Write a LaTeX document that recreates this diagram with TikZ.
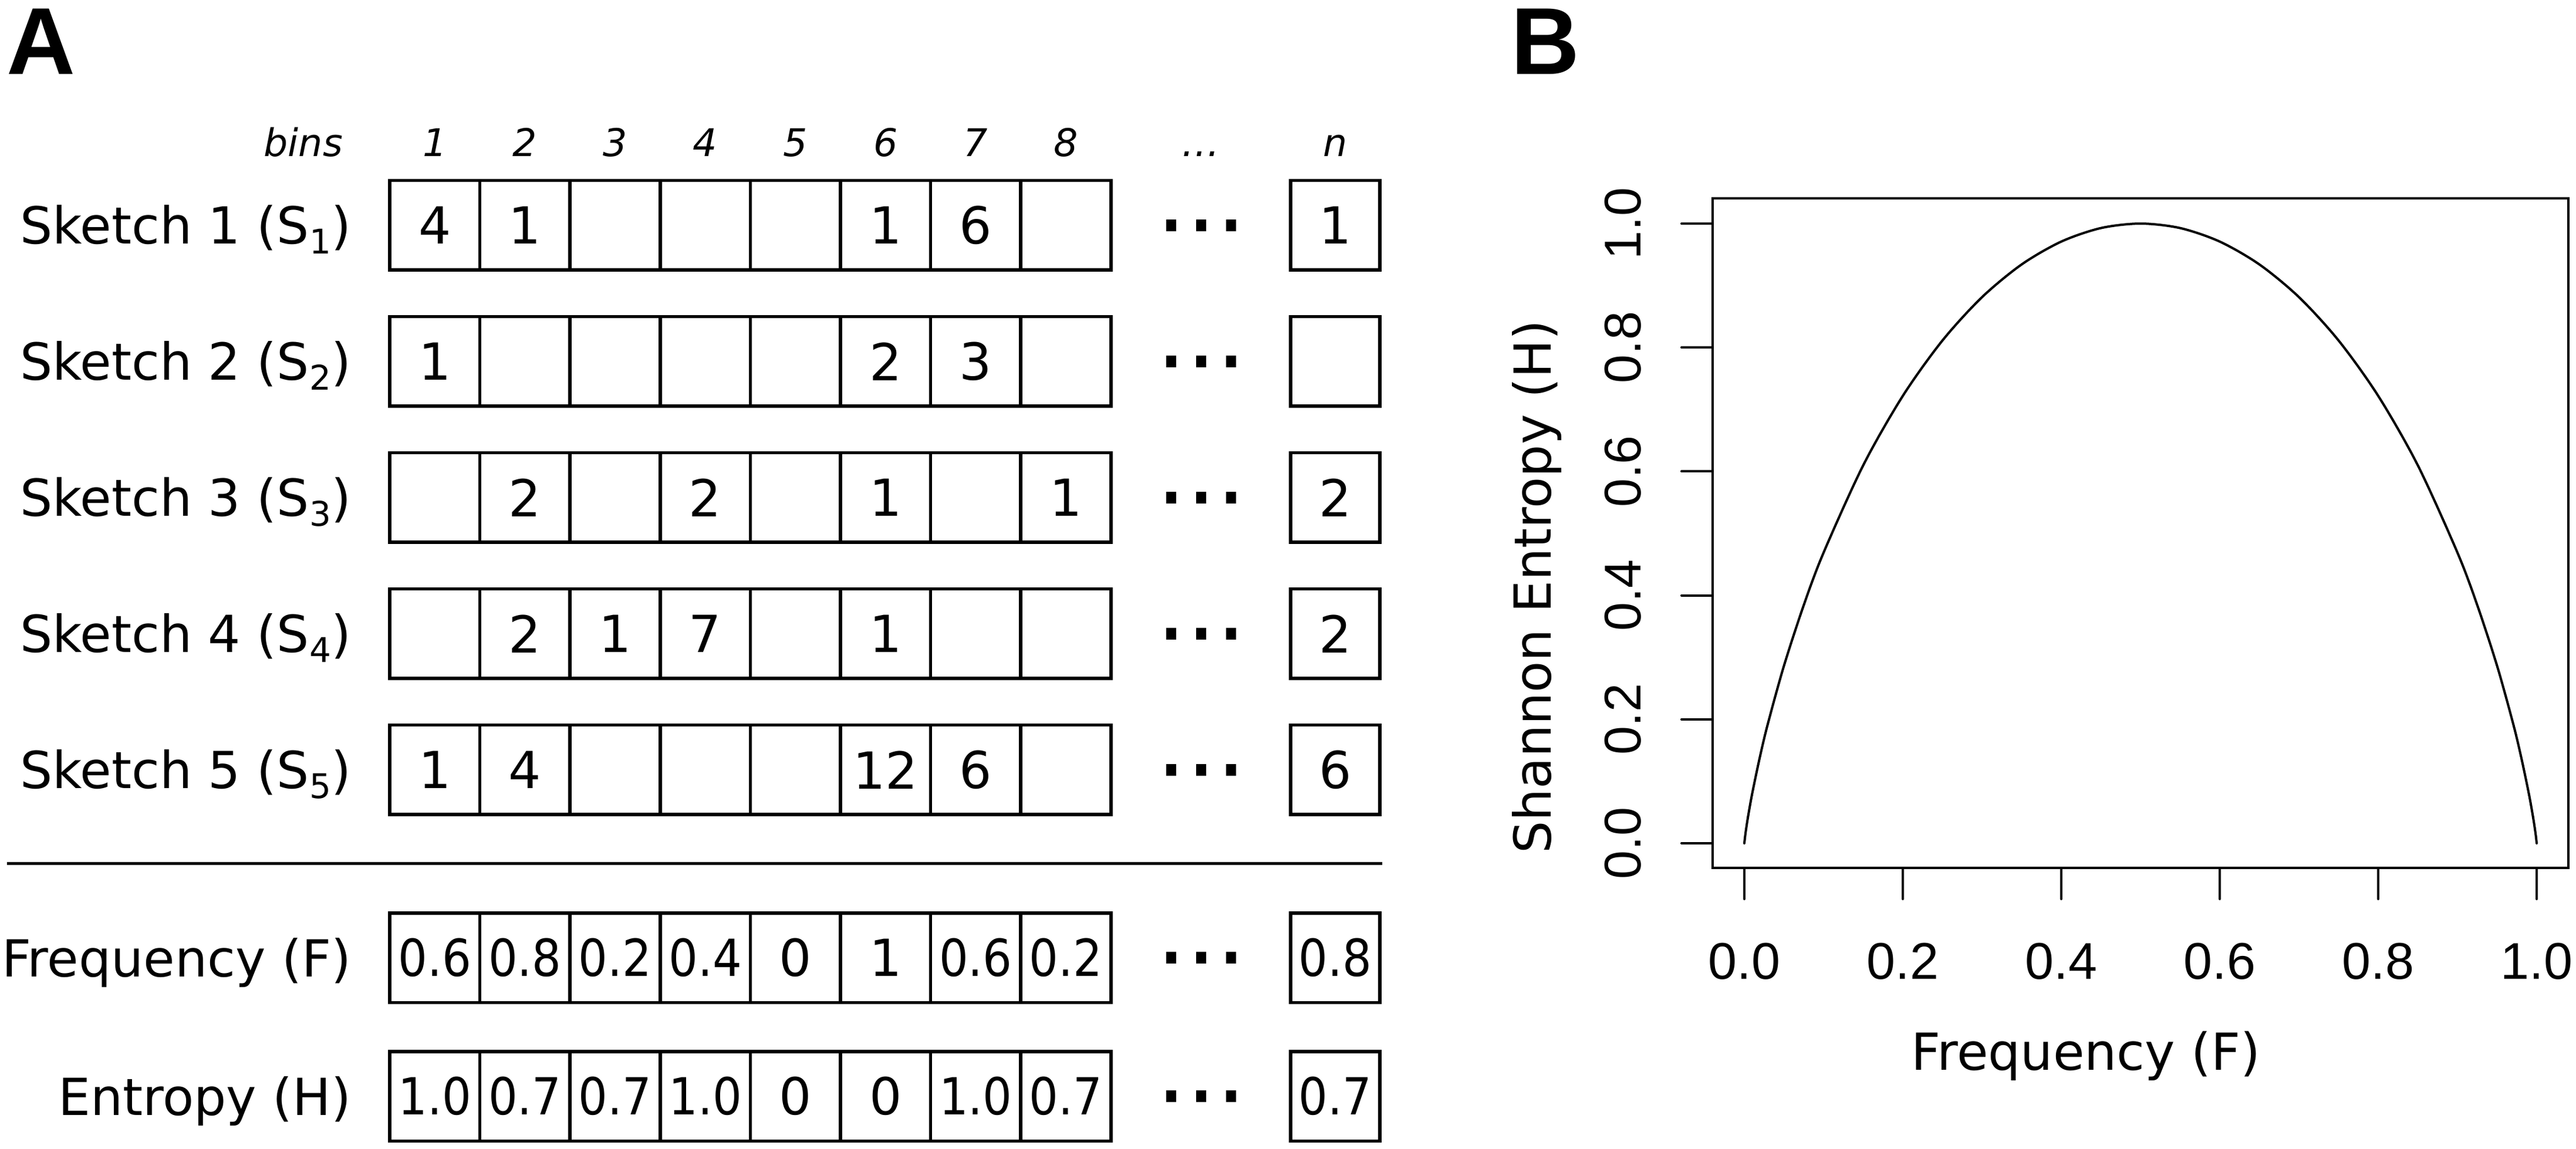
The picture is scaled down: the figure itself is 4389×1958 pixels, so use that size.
\documentclass[tikz,border=0pt]{standalone}
\usepackage{fontspec}
\setmainfont{DejaVu Sans}
\newfontfamily\libsans{Liberation Sans}
\newcommand\subsk[1]{\raisebox{-1.7pt}{\fontsize{5.8}{6}\selectfont #1}}
\newcommand\sq[1]{\scalebox{0.9}[1]{#1}}
\begin{document}
\begin{tikzpicture}[x=0.1pt,y=-0.1pt,
  cell/.style={draw, line width=0.55pt, minimum width=15.36pt, minimum height=15.25pt,
    inner sep=0pt, outer sep=0pt, font=\fontsize{8.7}{10}\selectfont},
  nbox/.style={cell, minimum width=15.2pt},
  rowlab/.style={anchor=base east, inner sep=0pt, font=\fontsize{8.7}{10}\selectfont},
  hdr/.style={anchor=base, inner sep=0pt, font=\fontsize{6.5}{8}\selectfont\itshape},
  dotbox/.style={fill, draw=none, minimum width=1.7pt, minimum height=2pt, inner sep=0pt},
  panel/.style={anchor=base west, inner sep=0pt, font=\libsans\bfseries\fontsize{16.2}{18}\selectfont},
  frame/.style={line width=0.4pt},
  tick/.style={line width=0.4pt, line cap=round},
  curve/.style={line width=0.4pt, line join=round, line cap=round},
  tlab/.style={anchor=base, inner sep=0pt, font=\libsans\fontsize{8.8}{10}\selectfont},
  axlab/.style={anchor=base, inner sep=0pt, font=\fontsize{8.7}{10}\selectfont}
]
\useasboundingbox (0,0) rectangle (4389,1958);

% panel letters
\node[panel] (labA) at (9,126) {A};
\node[panel] (labB) at (2572,127) {B};

% header
\node[hdr, anchor=base east] (bins) at (586,267) {bins};
\foreach \i in {1,...,8}
  \node[hdr] (h\i) at ({664+153.6*(\i-0.5)},267) {\i};
\node[hdr] (hdots) at (2046,267) {…};
\node[hdr] (hn) at (2275,267) {n};

% row labels (baseline = row centre + 32)
\node[rowlab] (l1) at (600,415.75) {Sketch 1 (S\subsk{1})};
\node[rowlab] (l2) at (600,647.75) {Sketch 2 (S\subsk{2})};
\node[rowlab] (l3) at (600,879.75) {Sketch 3 (S\subsk{3})};
\node[rowlab] (l4) at (600,1111.75) {Sketch 4 (S\subsk{4})};
\node[rowlab] (l5) at (600,1343.75) {Sketch 5 (S\subsk{5})};
\node[rowlab] (lf) at (600,1664) {Frequency (F)};
\node[rowlab] (le) at (600,1900) {Entropy (H)};

% rows of cells
\foreach \v [count=\i] in {4,1,{},{},{},1,6,{}}
  \node[cell] (s1c\i) at ({664+153.6*(\i-0.5)},383.75) {\v};
\foreach \v [count=\i] in {1,{},{},{},{},2,3,{}}
  \node[cell] (s2c\i) at ({664+153.6*(\i-0.5)},615.75) {\v};
\foreach \v [count=\i] in {{},2,{},2,{},1,{},1}
  \node[cell] (s3c\i) at ({664+153.6*(\i-0.5)},847.75) {\v};
\foreach \v [count=\i] in {{},2,1,7,{},1,{},{}}
  \node[cell] (s4c\i) at ({664+153.6*(\i-0.5)},1079.75) {\v};
\foreach \v [count=\i] in {1,4,{},{},{},12,6,{}}
  \node[cell] (s5c\i) at ({664+153.6*(\i-0.5)},1311.75) {\v};
\foreach \v [count=\i] in {\sq{0.6},\sq{0.8},\sq{0.2},\sq{0.4},0,1,\sq{0.6},\sq{0.2}}
  \node[cell] (fc\i) at ({664+153.6*(\i-0.5)},1632) {\v};
\foreach \v [count=\i] in {\sq{1.0},\sq{0.7},\sq{0.7},\sq{1.0},0,0,\sq{1.0},\sq{0.7}}
  \node[cell] (ec\i) at ({664+153.6*(\i-0.5)},1868) {\v};

% n-th cells
\node[nbox] (s1n) at (2275,383.75) {1};
\node[nbox] (s2n) at (2275,615.75) {};
\node[nbox] (s3n) at (2275,847.75) {2};
\node[nbox] (s4n) at (2275,1079.75) {2};
\node[nbox] (s5n) at (2275,1311.75) {6};
\node[nbox] (fn) at (2275,1632) {\sq{0.8}};
\node[nbox] (en) at (2275,1868) {\sq{0.7}};

% ellipsis dots
\foreach \r/\y in {1/383.75,2/615.75,3/847.75,4/1079.75,5/1311.75,f/1632,e/1868}
  \foreach \dx [count=\k] in {1995.5,2046,2097}
    \node[dotbox] (d\r\k) at (\dx,\y) {};

% separator
\coordinate (sepL) at (12,1471.5);
\coordinate (sepR) at (2355,1471.5);
\draw[line width=0.55pt] (sepL) -- (sepR);

% ---------- panel B ----------
\coordinate (boxA) at (2918,338);
\coordinate (boxB) at (4376,1479);
\draw[frame] (boxA) rectangle (boxB);
\foreach \v/\t in {0/0.0,0.2/0.2,0.4/0.4,0.6/0.6,0.8/0.8,1/1.0}{
  \draw[tick] ({2972+1350*\v},1479) -- ({2972+1350*\v},1532);
  \node[tlab] (xt\t) at ({2972+1350*\v},1668) {\t};
  \draw[tick] (2865,{1437-1056*\v}) -- (2918,{1437-1056*\v});
  \node[tlab, rotate=90] (yt\t) at (2795,{1437-1056*\v}) {\t};
}
\node[axlab] (xlab) at (3554,1823) {Frequency (F)};
\node[axlab, rotate=90] (ylab) at (2642,1000) {Shannon Entropy (H)};

% binary entropy curve H(F) = -F log2 F - (1-F) log2 (1-F)
\draw[curve] plot[smooth, tension=0.5] coordinates {
  (2972,1437) (2973.35,1424.95) (2975.375,1410.38) (2978.75,1389.04)
  (2985.5,1351.68) (2999,1287.64) (3012.5,1231.72) (3039.5,1134.56)
  (3073.25,1031.16) (3107,941.74) (3174.5,793.01) (3242,674.64)
  (3309.5,580.29) (3377,506.36) (3444.5,450.62) (3512,411.68)
  (3579.5,388.63) (3647,381)
  (3714.5,388.63) (3782,411.68) (3849.5,450.62) (3917,506.36)
  (3984.5,580.29) (4052,674.64) (4119.5,793.01) (4187,941.74)
  (4220.75,1031.16) (4254.5,1134.56) (4281.5,1231.72) (4295,1287.64)
  (4308.5,1351.68) (4315.25,1389.04) (4318.625,1410.38) (4320.65,1424.95)
  (4322,1437)};
\end{tikzpicture}
\end{document}
